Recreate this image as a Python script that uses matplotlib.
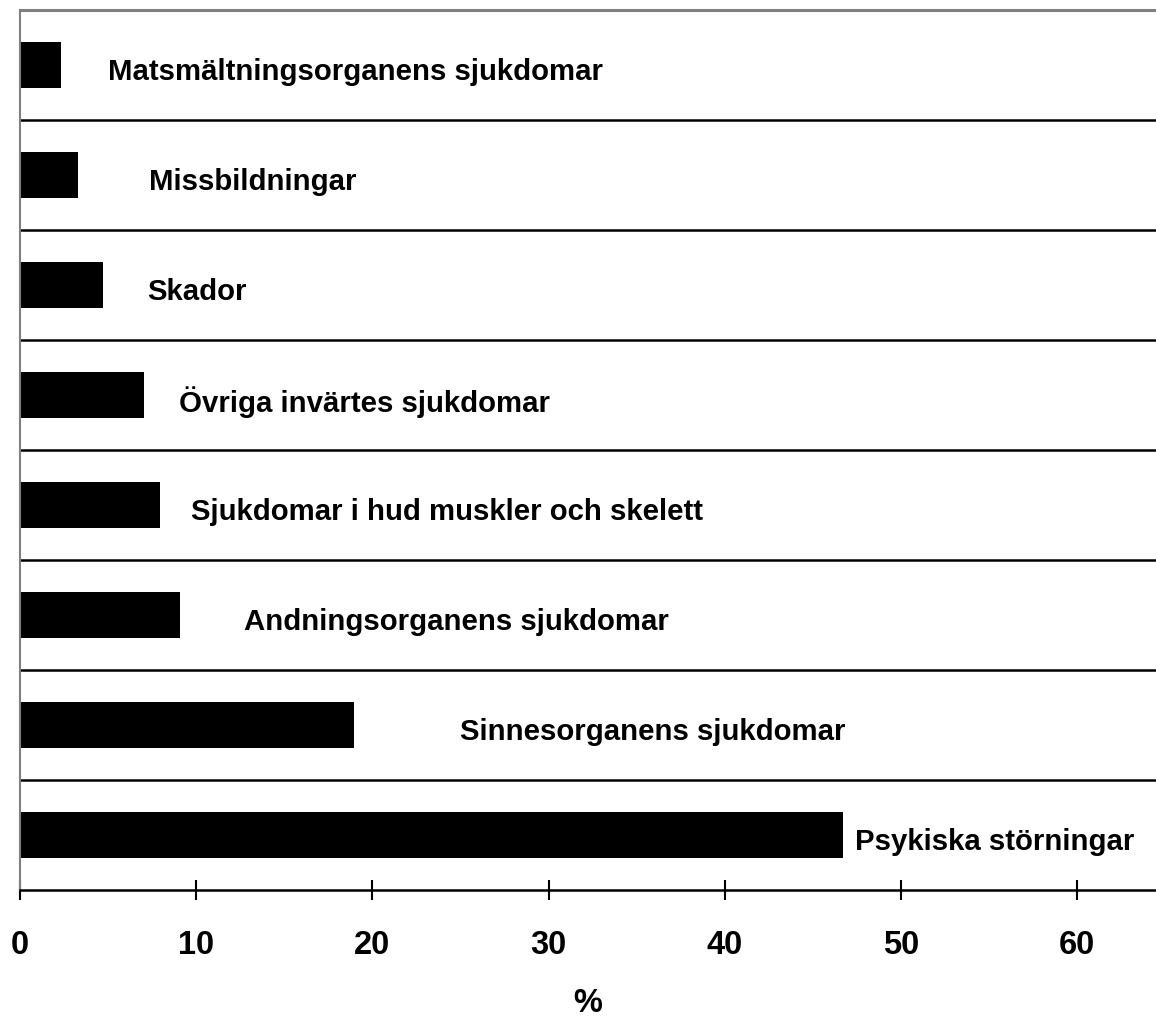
import numpy as np
import matplotlib.pyplot as plt

plt.rcParams['font.family'] = ['Liberation Sans', 'DejaVu Sans']
plt.rcParams['font.weight'] = 'bold'

# Data (top to bottom as shown)
categories = ['Matsmältningsorganens sjukdomar', 'Missbildningar', 'Skador',
              'Övriga invärtes sjukdomar', 'Sjukdomar i hud muskler och skelett',
              'Andningsorganens sjukdomar', 'Sinnesorganens sjukdomar',
              'Psykiska störningar']
values = [2.3, 3.3, 4.7, 7.05, 7.95, 9.1, 18.95, 46.7]
# where each label starts (x in %)
label_x = [5.0, 7.3, 7.2, 9.0, 9.7, 12.7, 25.0, 47.4]
xticks = [0, 10, 20, 30, 40, 50, 60]

fig = plt.figure(figsize=(11.56, 10.18), dpi=100)
ax = fig.add_axes([20 / 1156, 128 / 1018, 1136 / 1156, 880 / 1018])

y = np.arange(len(categories))
ax.barh(y, values, height=0.42, color='black')

for yi, lx, name in zip(y, label_x, categories):
    ax.annotate(name, (lx, yi), xytext=(0, -5), textcoords='offset points',
                va='center', ha='left', fontsize=21.2, fontweight='bold')

# separator lines between categories
for b in y[:-1] + 0.5:
    ax.axhline(b, color='black', lw=1.8, zorder=0)

ax.set_ylim(len(categories) - 0.5, -0.5)
ax.set_xlim(0, 1136 / 176.2 * 10)
ax.set_yticks([])
ax.set_xticks(xticks)
ax.set_xticklabels([str(t) for t in xticks], fontsize=23.5, fontweight='bold')
ax.tick_params(axis='x', direction='inout', length=14, width=1.5, pad=22)
ax.set_xlabel('%', fontsize=23.5, fontweight='bold', labelpad=19)

ax.spines['right'].set_visible(False)
ax.spines['top'].set_color('#808080')
ax.spines['top'].set_linewidth(2.2)
ax.spines['left'].set_color('#808080')
ax.spines['left'].set_linewidth(1.5)
ax.spines['bottom'].set_linewidth(1.8)

plt.savefig('out.png', dpi=100)
